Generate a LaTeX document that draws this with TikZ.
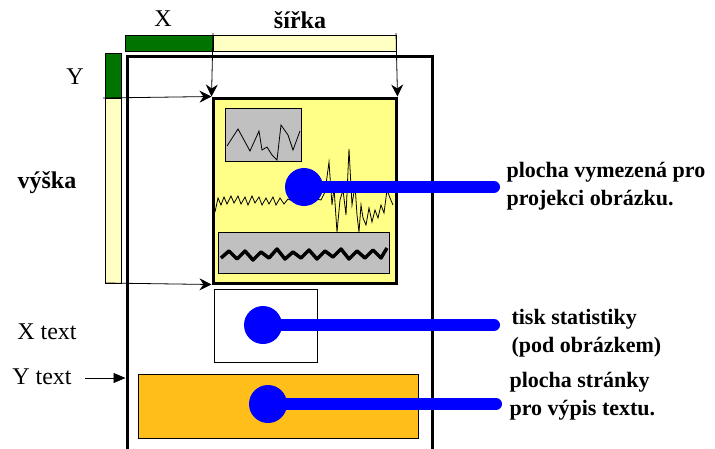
\documentclass[tikz,border=0pt]{standalone}
\usepackage{fontspec}
\setmainfont{Liberation Serif}
\usetikzlibrary{arrows.meta}
\definecolor{ink}{HTML}{000000}
\definecolor{barGreen}{HTML}{007300}
\definecolor{paleYel}{HTML}{FFFFC4}
\definecolor{imgYel}{HTML}{FFFF88}
\definecolor{boxGrey}{HTML}{C0C0C0}
\definecolor{textOrg}{HTML}{FFBE1A}
\definecolor{pinBlue}{HTML}{0000FF}
\tikzset{
  >={Stealth[length=12pt,width=12pt,inset=4pt]},
  bar/.style={draw=ink,line width=0.8pt,minimum width=16pt,minimum height=16pt,inner sep=0pt},
  area/.style={draw=ink,inner sep=0pt},
  dimlab/.style={font=\fontsize{24}{28}\selectfont,text=ink},
  boldlab/.style={font=\fontsize{24}{28}\selectfont\bfseries,text=ink},
  desc/.style={font=\fontsize{22}{28}\selectfont\bfseries,text=ink,align=left,anchor=west},
  dim/.style={->,ink,line width=0.8pt},
  dot/.style={circle,fill=pinBlue,minimum size=38pt,inner sep=0pt},
  pin/.style={pinBlue,line width=12pt,line cap=round},
}
\begin{document}
\begin{tikzpicture}[x=1pt,y=-1pt]
\useasboundingbox (0,0) rectangle (715,448);

% ================= PAGE =================
\node[area,line width=3pt,minimum width=305pt,minimum height=396pt] (page) at (279.5,254) {};

% ================= RULERS =================
\node[bar,fill=barGreen,minimum width=88pt] (barX) at (169,43) {};
\node[bar,fill=paleYel,minimum width=183pt] (barW) at (304.5,43) {};
\node[bar,fill=barGreen,minimum height=45pt] (barY) at (113,75.5) {};
\node[bar,fill=paleYel,minimum height=185pt] (barH) at (113,190.5) {};
\node[dimlab] (labX) at (163,19) {X};
\node[boldlab] (labW) at (300,20) {šířka};
\node[dimlab] (labY) at (75,77) {Y};
\node[boldlab] (labH) at (47,183) {výška};
\node[dimlab] (labXt) at (47,332) {X text};
\node[dimlab] (labYt) at (42,377) {Y text};

% ================= IMAGE AREA =================
\node[area,fill=imgYel,line width=3pt,minimum width=183pt,minimum height=185pt] (img) at (304.5,190.5) {};
\node[area,fill=boxGrey,line width=1pt,minimum width=76pt,minimum height=53pt] (graphA) at (263,134.5) {};
\node[area,fill=boxGrey,line width=1pt,minimum width=171pt,minimum height=41pt] (graphB) at (303.5,252.5) {};
\draw[ink,line width=0.8pt] plot coordinates {(227,146) (238,129) (250,151) (259,131) (262,150) (267,147) (272,155) (277,160) (281,125) (288,135) (293,150) (300,131)};
\draw[ink,line width=3.5pt,line join=round] plot coordinates {(221,258) (229,251) (237,259) (245,251) (253,260) (261,252) (269,258) (277,249) (285,259) (293,252) (301,258) (309,250) (317,259) (325,251) (333,257) (341,249) (349,259) (357,251) (365,258) (373,250) (381,258) (387,248)};
\draw[ink,line width=0.8pt] plot coordinates {(215,212) (218,198) (221,205) (224,197) (227,204) (231,196) (234,203) (238,196) (241,204) (245,197) (248,205) (252,196) (255,203) (259,197) (262,205) (266,198) (269,204) (273,197) (276,205) (280,198) (284,204) (288,199) (300,204) (312,198) (321,200) (325,192) (329,162) (332,205) (334,188) (337,232) (340,200) (343,190) (346,215) (349,149) (352,205) (355,185) (357,215) (359,232) (361,205) (363,218) (366,225) (369,208) (372,222) (375,210) (378,218) (381,205) (384,213) (387,190) (390,198) (393,205)};

% ================= STATS + TEXT AREA =================
\node[area,fill=white,line width=1pt,minimum width=103pt,minimum height=73pt] (stats) at (265.5,325.5) {};
\node[area,fill=textOrg,line width=1pt,minimum width=280pt,minimum height=64pt] (txt) at (278,406) {};

% ================= DIMENSION ARROWS =================
\coordinate (tX) at (213,33); \coordinate (tW) at (396,33);
\coordinate (sY) at (103,98); \coordinate (sH) at (105,283);
\coordinate (sYt) at (85,378);
\draw[dim] (tX) -- (img.north west);
\draw[dim] (tW) -- (img.north east);
\draw[dim] (sY) -- (img.north west);
\draw[dim] (sH) -- (img.south west);
\draw[dim,-{Triangle[length=12pt,width=10pt]}] (sYt) -- (sYt -| page.west);

% ================= POINTERS =================
\node[dot] (dotImg) at (304,187) {};
\node[dot] (dotStat) at (263,325) {};
\node[dot] (dotTxt) at (268,404) {};
\coordinate (endImg) at (494,187);
\coordinate (endStat) at (494,325);
\coordinate (endTxt) at (496,404);
\draw[pin] (dotImg.center) -- (endImg);
\draw[pin] (dotStat.center) -- (endStat);
\draw[pin] (dotTxt.center) -- (endTxt);
\node[desc] (dImg) at (503,186) {plocha vymezená pro\\projekci obrázku.};
\node[desc] (dStat) at (508,333) {tisk statistiky\\(pod obrázkem)};
\node[desc] (dTxt) at (506,396) {plocha stránky\\pro výpis textu.};

\end{tikzpicture}
\end{document}
